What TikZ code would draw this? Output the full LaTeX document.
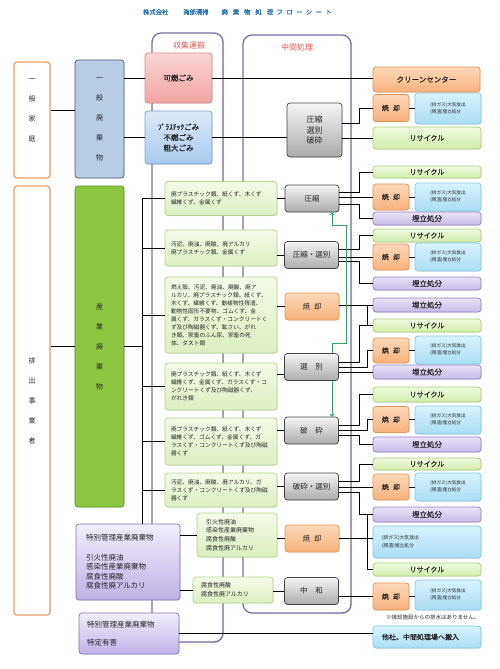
\documentclass[tikz,border=0pt]{standalone}
\usepackage{fontspec}
\setmainfont{Noto Sans CJK JP}[AutoFakeBold=0.6]
\usetikzlibrary{arrows.meta,shadows,calc}

\definecolor{inkgray}{HTML}{262626}
\definecolor{orangeln}{HTML}{E8A06A}
\definecolor{genF}{HTML}{B8CCE4}
\definecolor{genD}{HTML}{4F5B73}
\definecolor{indF}{HTML}{8DC641}
\definecolor{indD}{HTML}{5F8F2B}
\definecolor{pinkT}{HTML}{FBD5D5}
\definecolor{pinkB}{HTML}{F2A3A3}
\definecolor{pinkD}{HTML}{D98C8C}
\definecolor{pbT}{HTML}{DDEAF8}
\definecolor{pbB}{HTML}{A9C8EE}
\definecolor{pbD}{HTML}{7E9FCB}
\definecolor{gryT}{HTML}{F5F5F5}
\definecolor{gryB}{HTML}{ABABAB}
\definecolor{gryD}{HTML}{444444}
\definecolor{orgT}{HTML}{FDD9B8}
\definecolor{orgB}{HTML}{F8B17B}
\definecolor{orgD}{HTML}{E39557}
\definecolor{infT}{HTML}{D8F3FD}
\definecolor{infB}{HTML}{A9DEF4}
\definecolor{infD}{HTML}{86C6E3}
\definecolor{recT}{HTML}{F0F9E1}
\definecolor{recB}{HTML}{D2EDAA}
\definecolor{recD}{HTML}{A8CF7A}
\definecolor{lndT}{HTML}{E9E2F6}
\definecolor{lndB}{HTML}{C8BAE7}
\definecolor{lndD}{HTML}{9383C3}
\definecolor{lstT}{HTML}{F4FAE8}
\definecolor{lstB}{HTML}{DCEFC2}
\definecolor{lstD}{HTML}{B5D78D}
\definecolor{spT}{HTML}{F2EEFB}
\definecolor{spB}{HTML}{C0B1E7}
\definecolor{spD}{HTML}{8474B0}
\definecolor{frameln}{HTML}{7C70A4}
\definecolor{arrowgreen}{HTML}{2FA866}
\definecolor{titleblue}{HTML}{1F6FB2}
\definecolor{labelred}{HTML}{E35D58}

\tikzset{
  box/.style={rounded corners=3pt, line width=0.7pt, inner sep=0pt, align=center, text=inkgray,
    drop shadow={opacity=0.2, shadow xshift=0.7pt, shadow yshift=-0.7pt}},
  frame/.style={draw=frameln, fill=white, line width=1.3pt, rounded corners=9pt,
    drop shadow={opacity=0.25, shadow xshift=1pt, shadow yshift=-1pt}},
  framelabel/.style={text=labelred, font=\fontsize{8}{9}\selectfont},
  titletext/.style={text=titleblue, font=\fontsize{6.3}{7}\selectfont\bfseries},
  hhold/.style={box, draw=orangeln, fill=white, line width=1.2pt, minimum width=36},
  vtext/.style={text=inkgray, align=center, font=\fontsize{7}{20}\selectfont},
  wclass/.style={box, minimum width=49, font=\fontsize{7}{20}\selectfont},
  pinkbox/.style={box, top color=pinkT, bottom color=pinkB, draw=pinkD, minimum width=67, font=\fontsize{7.5}{10.5}\selectfont\bfseries},
  pbbox/.style={box, top color=pbT, bottom color=pbB, draw=pbD, minimum width=67, font=\fontsize{7.5}{10.5}\selectfont\bfseries},
  midbox/.style={box, top color=gryT, bottom color=gryB, draw=gryD, minimum width=54, minimum height=27, font=\fontsize{7.5}{10}\selectfont},
  burnbox/.style={box, top color=orgT, bottom color=orgB, draw=orgD, minimum width=36, minimum height=26, font=\fontsize{7}{9}\selectfont\bfseries},
  infobox/.style={box, top color=infT, bottom color=infB, draw=infD, minimum width=66, minimum height=28, align=left, font=\fontsize{4.6}{7}\selectfont},
  recbox/.style={box, top color=recT, bottom color=recB, draw=recD, minimum width=108, minimum height=13, font=\fontsize{7}{8}\selectfont\bfseries},
  landbox/.style={recbox, top color=lndT, bottom color=lndB, draw=lndD, font=\fontsize{7.5}{8}\selectfont\bfseries},
  listbox/.style={box, top color=lstT, bottom color=lstB, draw=lstD, align=left, font=\fontsize{5.7}{8}\selectfont},
  spbox/.style={box, top color=spT, bottom color=spB, draw=spD, align=left, font=\fontsize{7.5}{9.5}\selectfont},
  link/.style={line width=1pt, black},
  garrow/.style={draw=arrowgreen, line width=1pt, -{To[length=3pt,width=4.5pt]}},
}

\begin{document}
\begin{tikzpicture}[x=1pt, y=-1pt]
\useasboundingbox (0,0) rectangle (500,669);
\fill[white] (0,0) rectangle (500,669);

% Title
\node[titletext] (title) at (237.5,12) {株式会社\hspace{15pt}海部清掃\hspace{13pt}廃\hspace{5pt}棄\hspace{5pt}物\hspace{5pt}処\hspace{5pt}理\hspace{3.5pt}フ\hspace{3.5pt}ロ\hspace{3.5pt}ー\hspace{3.5pt}シ\hspace{3.5pt}ー\hspace{3.5pt}ト};

% Frames
\draw[frame] (152,33) rectangle (223,642);
\draw[frame] (243,35) rectangle (351,613);
\node[framelabel] (collect) at (189,45) {収集運搬};
\node[framelabel] (process) at (297,47) {中間処理};

% Household / general waste
\node[hhold, minimum height=116] (home) at (32,120) {};
\node[vtext] (hometxt) at (32,110) {一\\般\\家\\庭};
\node[wclass, fill=genF, draw=genD, minimum height=118] (general) at (99.5,119) {一\\般\\廃\\棄\\物};
\node[pinkbox, minimum height=50] (burnable) at (178.5,78) {可燃ごみ};
\node[pbbox, minimum height=53] (plastic) at (178.5,137.5) {ﾌﾟﾗｽﾁｯｸごみ\\不燃ごみ\\粗大ごみ};
\node[midbox, minimum width=55, minimum height=54, font=\fontsize{8}{10.5}\selectfont] (crush) at (314.5,130) {圧縮\\選別\\破砕};
\node[burnbox, minimum width=107, minimum height=25, font=\fontsize{7.5}{9}\selectfont\bfseries] (clean) at (426.5,79.5) {クリーンセンター};
\node[burnbox, minimum height=27] (burn0) at (391,108) {焼\hspace{4pt}却};
\node[infobox, minimum height=31] (info0) at (448,108.5) {(排ガス)大気放出\\(残渣)埋立処分};
\node[recbox, minimum height=22] (rec0) at (427,138) {リサイクル};

% Business / industrial waste
\node[hhold, minimum height=429] (biz) at (32,400.5) {};
\node[vtext] (biztxt) at (32,401) {排\\出\\事\\業\\者};
\node[wclass, fill=indF, draw=indD, minimum height=321] (industrial) at (99.5,346.5) {産\\業\\廃\\棄\\物};

% Waste lists
\node[listbox, minimum width=112, minimum height=34, text width=100] (list1) at (221,198.5) {廃プラスチック類、紙くず、木くず\\繊維くず、金属くず};
\node[listbox, minimum width=112, minimum height=36, text width=100] (list2) at (221,248) {汚泥、廃油、廃酸、廃アルカリ\\廃プラスチック類、金属くず};
\node[listbox, minimum width=112, minimum height=76, text width=100] (list3) at (221,315) {燃え殻、汚泥、廃油、廃酸、廃ア\\ルカリ、廃プラスチック類、紙くず、\\木くず、繊維くず、動植物性残渣、\\動物性固形不要物、ゴムくず、金\\属くず、ガラスくず・コンクリートく\\ず及び陶磁器くず、鉱さい、がれ\\き類、家畜のふん尿、家畜の死\\体、ダスト類};
\node[listbox, minimum width=112, minimum height=47, text width=100] (list4) at (221,386.5) {廃プラスチック類、紙くず、木くず\\繊維くず、金属くず、ガラスくず・コ\\ンクリートくず及び陶磁器くず、\\がれき類};
\node[listbox, minimum width=112, minimum height=47, text width=100] (list5) at (221,441.5) {廃プラスチック類、紙くず、木くず\\繊維くず、ゴムくず、金属くず、ガ\\ラスくず・コンクリートくず及び陶磁\\器くず};
\node[listbox, minimum width=112, minimum height=34, text width=100] (list6) at (221,490) {汚泥、廃油、廃酸、廃アルカリ、ガ\\ラスくず・コンクリートくず及び陶磁\\器くず};
\node[listbox, minimum width=80, minimum height=44, text width=62, font=\fontsize{6}{8.7}\selectfont] (list7) at (237,535) {引火性廃油\\感染性産業廃棄物\\腐食性廃酸\\腐食性廃アルカリ};
\node[listbox, minimum width=80, minimum height=26, text width=64, font=\fontsize{6}{8.7}\selectfont] (list8) at (233,590) {腐食性廃酸\\腐食性廃アルカリ};

% Specially controlled waste
\node[spbox, minimum width=104, minimum height=76, text width=84] (special) at (128,562) {特別管理産業廃棄物\\[10pt]引火性廃油\\感染性産業廃棄物\\腐食性廃酸\\腐食性廃アルカリ};
\node[spbox, minimum width=100, minimum height=41, text width=84] (toxic) at (129,633.5) {特別管理産業廃棄物\\[9pt]特定有害};

% Intermediate treatment
\node[midbox] (mid1) at (312,198.5) {圧縮};
\node[midbox] (mid2) at (311.5,255) {圧縮・選別};
\node[midbox, top color=orgT, bottom color=orgB, draw=orgD] (mid3) at (312,306.5) {焼\hspace{4pt}却};
\node[midbox] (mid4) at (311.5,367) {選\hspace{8pt}別};
\node[midbox] (mid5) at (311.5,430.5) {破\hspace{8pt}砕};
\node[midbox] (mid6) at (311.5,486.5) {破砕・選別};
\node[midbox, top color=orgT, bottom color=orgB, draw=orgD] (mid7) at (312,538.5) {焼\hspace{4pt}却};
\node[midbox] (mid8) at (311.5,591) {中\hspace{8pt}和};

% Destinations
\node[recbox, minimum height=12] (rec1) at (427,172) {リサイクル};
\node[burnbox] (burn1) at (391,197) {焼\hspace{4pt}却};
\node[infobox] (info1) at (448,197) {(排ガス)大気放出\\(残渣)埋立処分};
\node[landbox] (land1) at (427,218.5) {埋立処分};
\node[recbox] (rec2) at (427,235.5) {リサイクル};
\node[burnbox] (burn2) at (391,257) {焼\hspace{4pt}却};
\node[infobox] (info2) at (448,257) {(排ガス)大気放出\\(残渣)埋立処分};
\node[landbox] (land2) at (427,283.5) {埋立処分};
\node[landbox, minimum height=14] (land3) at (427,305) {埋立処分};
\node[recbox] (rec4) at (427,325.5) {リサイクル};
\node[burnbox, minimum height=25] (burn4) at (391,350.5) {焼\hspace{4pt}却};
\node[infobox] (info4) at (448,350) {(排ガス)大気放出\\(残渣)埋立処分};
\node[landbox, minimum height=14] (land4) at (427,372) {埋立処分};
\node[recbox, minimum height=15] (rec5) at (427,394.5) {リサイクル};
\node[burnbox] (burn5) at (391,419.5) {焼\hspace{4pt}却};
\node[infobox] (info5) at (448,420) {(排ガス)大気放出\\(残渣)埋立処分};
\node[landbox, minimum height=15] (land5) at (427,444.5) {埋立処分};
\node[recbox, minimum height=12] (rec6) at (427,464) {リサイクル};
\node[burnbox] (burn6) at (391,487) {焼\hspace{4pt}却};
\node[infobox] (info6) at (448,487) {(排ガス)大気放出\\(残渣)埋立処分};
\node[landbox, minimum height=15] (land6) at (427,514.5) {埋立処分};
\node[infobox, minimum width=108, minimum height=32, text width=90, font=\fontsize{4.8}{7.5}\selectfont] (info7) at (427,542) {(排ガス)大気放出\\(残渣)埋立処分};
\node[recbox] (rec7) at (427,569.5) {リサイクル};
\node[burnbox, minimum height=27] (burn8) at (391,596.5) {焼\hspace{4pt}却};
\node[infobox, minimum height=30] (info8) at (448,595) {(排ガス)大気放出\\(残渣)埋立処分};
\node[anchor=east, text=inkgray, font=\fontsize{5.5}{7}\selectfont] (note) at (483,617) {※焼却施設からの排水はありません。};
\node[infobox, minimum width=108, minimum height=22, text width=90, font=\fontsize{7}{8}\selectfont\bfseries] (other) at (427,637) {他社、中間処理場へ搬入};

% Helper columns
\coordinate (bus) at (142,0);
\coordinate (va) at (359,0);
\coordinate (vb) at (367,0);
\coordinate (gx) at (332,0);
\coordinate (gr) at (346,0);

% Links: general waste
\draw[link] (home.east |- hometxt) -- (general.west |- hometxt);
\draw[link] (general.east |- burnable.west) -- (burnable.west);
\draw[link] (general.east |- plastic.west) -- (plastic.west);
\draw[link] (burnable.east) -- (burnable.east -| clean.west);
\draw[link] (plastic.east) -- (plastic.east -| crush.west);
\draw[link] ($(crush.east)+(0,-7)$) -| (va |- burn0.west) -- (burn0.west);
\draw[link] (crush.east |- rec0.west) -- (rec0.west);
\draw[link] (burn0.east) -- (burn0.east -| info0.west);

% Links: industrial waste
\draw[link] (biz.east |- industrial.west) -- (industrial.west);
\draw[link] (industrial.east) -- (bus |- industrial.east);
\draw[link] (bus |- list1.west) -- (bus |- special.north);
\draw[link] (bus |- list1.west) -- (list1.west);
\draw[link] (bus |- list2.west) -- (list2.west);
\draw[link] (bus |- list3.west) -- (list3.west);
\draw[link] (bus |- list4.west) -- (list4.west);
\draw[link] (bus |- list5.west) -- (list5.west);
\draw[link] (bus |- list6.west) -- (list6.west);
\draw[link] (special.east |- list7.west) -- (list7.west);
\draw[link] (special.east |- list8.west) -- (list8.west);
\draw[link] (toxic.east) -- (toxic.east -| other.west);

% Links: lists to treatment
\draw[link] (list1.east |- mid1.west) -- (mid1.west);
\draw[link] (list2.east |- mid2.west) -- (mid2.west);
\draw[link] (list3.east |- mid3.west) -- (mid3.west);
\draw[link] ($(list4.east |- mid4.west)+(0,7)$) -- ($(mid4.west)+(0,7)$);
\draw[link] (list5.east |- mid5.west) -- (mid5.west);
\draw[link] (list6.east |- mid6.west) -- (mid6.west);
\draw[link] (list7.east |- mid7.west) -- (mid7.west);
\draw[link] (list8.east |- mid8.west) -- (mid8.west);

% Links: treatment to destinations
\draw[link] ($(mid1.east)+(0,-6)$) -| (va |- rec1.west) -- (rec1.west);
\draw[link] (mid1.east |- burn1.west) -- (burn1.west);
\draw[link] ($(mid1.east)+(0,6)$) -| (va |- land1.west) -- (land1.west);
\draw[link] (burn1.east) -- (burn1.east -| info1.west);

\draw[link] ($(mid2.east)+(0,-6)$) -| (va |- rec2.west) -- (rec2.west);
\draw[link] (mid2.east |- burn2.west) -- (burn2.west);
\draw[link] ($(mid2.east)+(0,6)$) -| (va |- land2.west) -- (land2.west);
\draw[link] (burn2.east) -- (burn2.east -| info2.west);

\draw[link] (mid3.east |- land3.west) -- (land3.west);
\draw[link] (vb |- land3.west) |- (rec4.west);

\draw[link] ($(mid4.east)+(0,-5)$) -| (va |- rec4.west) -- (rec4.west);
\draw[link] (mid4.east) -| (vb |- burn4.west) -- (burn4.west);
\draw[link] (mid4.east |- land4.west) -- (land4.west);
\draw[link] (burn4.east) -- (burn4.east -| info4.west);

\draw[link] ($(mid5.east)+(0,-5)$) -| (va |- rec5.west) -- (rec5.west);
\draw[link] (mid5.east) -| (vb |- burn5.west) -- (burn5.west);
\draw[link] ($(mid5.east)+(0,5)$) -| (va |- land5.west) -- (land5.west);
\draw[link] (burn5.east) -- (burn5.east -| info5.west);

\draw[link] ($(mid6.east)+(0,-5)$) -| (va |- rec6.west) -- (rec6.west);
\draw[link] (mid6.east |- burn6.west) -- (burn6.west);
\draw[link] ($(mid6.east)+(0,6)$) -| (va |- land6.west) -- (land6.west);
\draw[link] (burn6.east) -- (burn6.east -| info6.west);

\draw[link] (mid7.east) -- (mid7.east -| info7.west);
\draw[link] (vb |- land6.west) |- (rec7.west);

\draw[link] (mid8.east |- burn8.west) -- (burn8.west);
\draw[link] (burn8.east) -- (burn8.east -| info8.west);

% Green flow between sorting and compression / crushing
\draw[garrow] (gx |- mid4.north) -- ++(0,-10) -| ($(gr |- mid1.south)+(0,13)$) -| (gx |- mid1.south);
\draw[garrow] (gx |- mid4.south) -- (gx |- mid5.north);
\end{tikzpicture}
\end{document}
